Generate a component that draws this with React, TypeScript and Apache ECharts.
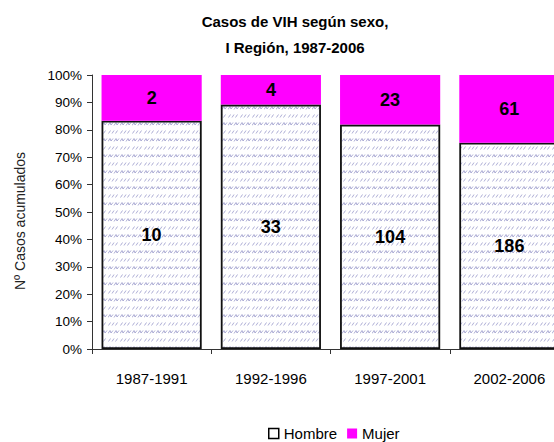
import React, { useEffect, useRef } from 'react';
import * as echarts from 'echarts';

const categories = ['1987-1991', '1992-1996', '1997-2001', '2002-2006'];
const hombre = [10, 33, 104, 186];
const mujer = [2, 4, 23, 61];
const titleLines = ['Casos de VIH según sexo,', 'I Región, 1987-2006'];
const yAxisTitle = 'Nº Casos acumulados';
const seriesNames = ['Hombre', 'Mujer'];

const FONT = '"Liberation Sans", Arial, Helvetica, sans-serif';

function makePattern(): HTMLCanvasElement {
  const c = document.createElement('canvas');
  c.width = 12;
  c.height = 16;
  const ctx = c.getContext('2d')!;
  ctx.fillStyle = '#ffffff';
  ctx.fillRect(0, 0, 12, 16);
  ctx.strokeStyle = 'rgba(140,140,195,0.7)';
  ctx.lineWidth = 1;
  // row 1: slanted strokes
  ctx.beginPath();
  ctx.moveTo(0.5, 5.5); ctx.lineTo(2.5, 2.5);
  ctx.moveTo(4, 5.5); ctx.lineTo(6, 2.5);
  ctx.moveTo(7.5, 5.5); ctx.lineTo(9.5, 2.5);
  ctx.stroke();
  // row 2: zigzag
  ctx.beginPath();
  ctx.moveTo(0, 13.5); ctx.lineTo(2, 10.5); ctx.lineTo(3, 13); ctx.lineTo(5, 10.5);
  ctx.moveTo(6, 13.5); ctx.lineTo(8, 10.5); ctx.lineTo(9, 13); ctx.lineTo(11, 10.5);
  ctx.stroke();
  return c;
}

export default function App() {
  const ref = useRef<HTMLDivElement>(null);
  useEffect(() => {
    if (!ref.current) return;
    const chart = echarts.init(ref.current, undefined, { renderer: 'svg' });
    const totals = hombre.map((h, i) => h + mujer[i]);
    const hPct = hombre.map((h, i) => (h / totals[i]) * 100);
    const mPct = mujer.map((m, i) => (m / totals[i]) * 100);
    const pattern = makePattern();

    const option: any = {
      animation: false,
      backgroundColor: '#ffffff',
      textStyle: { fontFamily: FONT },
      grid: { left: 92, right: -15, top: 75, bottom: 93, containLabel: false, outerBoundsMode: 'none' },
      legend: {
        left: 263,
        top: 421,
        icon: 'rect',
        itemWidth: 10,
        itemHeight: 10,
        itemGap: 10,
        textStyle: { fontSize: 15, color: '#000', fontFamily: FONT },
        data: [
          { name: seriesNames[0], itemStyle: { color: '#ffffff', borderColor: '#000', borderWidth: 1.5 } },
          { name: seriesNames[1], itemStyle: { color: '#ff00ff', borderWidth: 0 } },
        ],
      },
      xAxis: {
        type: 'category',
        data: categories,
        axisLine: { lineStyle: { color: '#333', width: 1 } },
        axisTick: { show: true, length: 5, lineStyle: { color: '#333' } },
        axisLabel: { fontSize: 15, color: '#000', margin: 22, fontFamily: FONT },
      },
      yAxis: {
        type: 'value',
        min: 0,
        max: 100,
        interval: 10,
        axisLine: { show: true, lineStyle: { color: '#333', width: 1 } },
        axisTick: { show: true, length: 5, lineStyle: { color: '#333' } },
        splitLine: { show: false },
        axisLabel: { formatter: '{value}%', fontSize: 13.5, color: '#000', margin: 10, fontFamily: FONT },
      },
      graphic: [
        {
          type: 'text',
          x: 295,
          y: 21,
          style: { text: titleLines[0], fontSize: 15, fontWeight: 'bold', fontFamily: FONT, fill: '#000', align: 'center', verticalAlign: 'middle' },
        },
        {
          type: 'text',
          x: 295,
          y: 47,
          style: { text: titleLines[1], fontSize: 15, fontWeight: 'bold', fontFamily: FONT, fill: '#000', align: 'center', verticalAlign: 'middle' },
        },
        {
          type: 'text',
          x: 20,
          y: 221,
          rotation: Math.PI / 2,
          style: { text: yAxisTitle, fontSize: 14, fontFamily: FONT, fill: '#222', align: 'center', verticalAlign: 'middle' },
        },
      ],
      series: [
        {
          name: seriesNames[0],
          type: 'bar',
          stack: 'total',
          barCategoryGap: '16%',
          data: hPct,
          itemStyle: {
            color: { image: pattern, repeat: 'repeat' },
            borderColor: '#111',
            borderWidth: 1.8,
          },
          label: {
            show: true,
            position: 'inside',
            fontSize: 18,
            fontWeight: 'bold',
            color: '#000',
            textBorderWidth: 0,
            fontFamily: FONT,
            formatter: (p: any) => String(hombre[p.dataIndex]),
          },
        },
        {
          name: seriesNames[1],
          type: 'bar',
          stack: 'total',
          barCategoryGap: '16%',
          data: mPct,
          itemStyle: { color: '#ff00ff', borderWidth: 0 },
          label: {
            show: true,
            position: 'inside',
            fontSize: 18,
            fontWeight: 'bold',
            color: '#000',
            textBorderWidth: 0,
            fontFamily: FONT,
            formatter: (p: any) => String(mujer[p.dataIndex]),
          },
        },
      ],
    };
    chart.setOption(option);
    return () => chart.dispose();
  }, []);
  return <div ref={ref} style={{ position: 'fixed', left: 0, top: 0, width: 554, height: 442 }} />;
}
